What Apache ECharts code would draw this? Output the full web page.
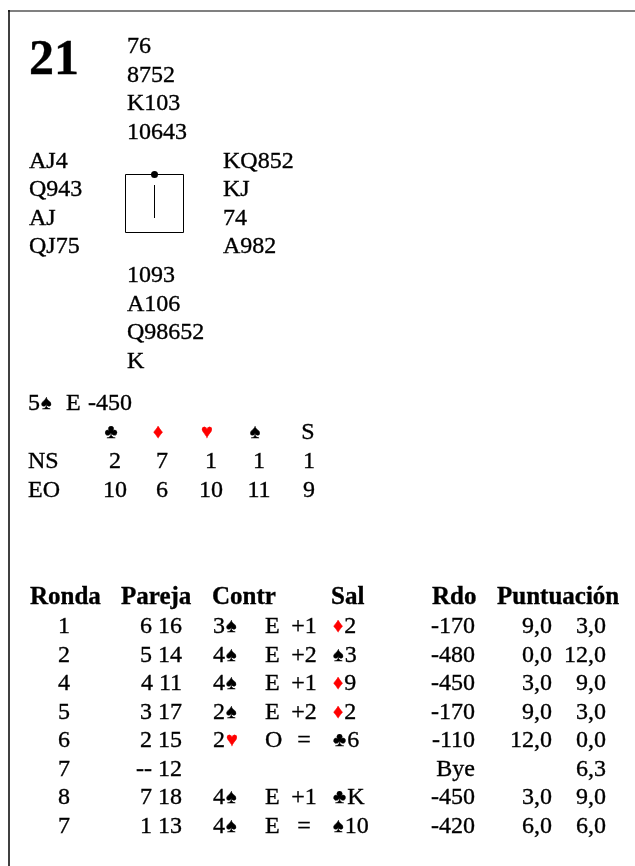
<!DOCTYPE html>
<html>
<head>
<meta charset="utf-8">
<script src="https://cdn.jsdelivr.net/npm/echarts@6/dist/echarts.min.js"></script>
<style>
html,body{margin:0;padding:0;background:#fff;}
#c{width:635px;height:866px;}
</style>
</head>
<body>
<div id="c"></div>
<script>
// ---- data ----
const boardNumber = '21';
const north = ['76', '8752', 'K103', '10643'];
const west = ['AJ4', 'Q943', 'AJ', 'QJ75'];
const east = ['KQ852', 'KJ', '74', 'A982'];
const south = ['1093', 'A106', 'Q98652', 'K'];
const parContract = ['5S', 'E', '-450'];
const trickHeaders = ['C', 'D', 'H', 'S', 'N'];
const nsTricks = [2, 7, 1, 1, 1];
const eoTricks = [10, 6, 10, 11, 9];
const tableHeaders = ['Ronda', 'Pareja', 'Contr', 'Sal', 'Rdo', 'Puntuación'];
const rounds = ['1', '2', '4', '5', '6', '7', '8', '7'];
const pairs = ['6 16', '5 14', '4 11', '3 17', '2 15', '-- 12', '7 18', '1 13'];
const contracts = ['3S', '4S', '4S', '2S', '2H', '', '4S', '4S'];
const declarers = ['E', 'E', 'E', 'E', 'O', '', 'E', 'E'];
const results = ['+1', '+2', '+1', '+2', '=', '', '+1', '='];
const leads = ['D2', 'S3', 'D9', 'D2', 'C6', '', 'CK', 'S10'];
const scores = ['-170', '-480', '-450', '-170', '-110', 'Bye', '-450', '-420'];
const nsPoints = ['9,0', '0,0', '3,0', '9,0', '12,0', '', '3,0', '6,0'];
const eoPoints = ['3,0', '12,0', '9,0', '3,0', '0,0', '6,3', '9,0', '6,0'];

// ---- helpers ----
const FAMILY = 'Liberation Serif, Times New Roman, serif';
const FS = 24;
const SUIT_FS = 20;
const INK = 0.35;
const SUIT = { S: '{k|♠}', H: '{r|♥}', D: '{r|♦}', C: '{k|♣}', N: '{n|S}' };
const rich = {
  n: { fill: '#000', fontSize: FS, fontFamily: FAMILY, fontWeight: 'normal', stroke: '#000', lineWidth: INK },
  k: { fill: '#000', fontSize: SUIT_FS, fontFamily: FAMILY, stroke: '#000', lineWidth: INK, padding: [0, 1, 0, 1] },
  r: { fill: '#ff0000', fontSize: SUIT_FS, fontFamily: FAMILY, stroke: '#ff0000', lineWidth: INK, padding: [0, 1, 0, 1] }
};
function plain(s) { return s ? '{n|' + s + '}' : ''; }
function levelSuit(s) { return s ? plain(s.slice(0, -1)) + SUIT[s.slice(-1)] : ''; }
function suitRank(s) { return s ? SUIT[s[0]] + plain(s.slice(1)) : ''; }

const els = [];
function txt(str, x, baseline, align, opts) {
  opts = opts || {};
  const fs = opts.fontSize || FS;
  str = String(str);
  const style = {
    x: x,
    y: baseline - 0.3375 * fs,
    text: str,
    fill: '#000',
    font: (opts.bold ? 'bold ' : 'normal ') + fs + 'px ' + FAMILY,
    align: align || 'left',
    verticalAlign: 'middle',
    stroke: '#000',
    lineWidth: INK
  };
  if (str.indexOf('{') >= 0) style.rich = rich;
  els.push({ type: 'text', silent: true, style: style });
}

// frame
els.push({ type: 'line', silent: true, shape: { x1: 8, y1: 11, x2: 635, y2: 11 }, style: { stroke: '#808080', lineWidth: 2 } });
els.push({ type: 'line', silent: true, shape: { x1: 9, y1: 10, x2: 9, y2: 866 }, style: { stroke: '#000', lineWidth: 1.5 } });

// board number
txt(boardNumber, 29, 78, 'left', { bold: true, fontSize: 50 });

// hands
const handStep = 28.6;
north.forEach((h, i) => txt(h, 127, 55 + handStep * i, 'left'));
west.forEach((h, i) => txt(h, 29, 55 + handStep * (4 + i), 'left'));
east.forEach((h, i) => txt(h, 223, 55 + handStep * (4 + i), 'left'));
south.forEach((h, i) => txt(h, 127, 55 + handStep * (8 + i), 'left'));

// compass box
els.push({ type: 'rect', silent: true, shape: { x: 125.5, y: 174.5, width: 58, height: 58 }, style: { fill: 'none', stroke: '#000', lineWidth: 1 } });
els.push({ type: 'line', silent: true, shape: { x1: 154.5, y1: 185, x2: 154.5, y2: 218 }, style: { stroke: '#000', lineWidth: 1 } });
els.push({ type: 'circle', silent: true, shape: { cx: 154.5, cy: 174.5, r: 3.5 }, style: { fill: '#000' } });

// par contract
txt(levelSuit(parContract[0]), 28, 412, 'left');
txt(parContract[1], 66, 412, 'left');
txt(parContract[2], 88, 412, 'left');

// tricks table
const trickCols = [115, 162, 211, 259, 309];
trickHeaders.forEach((s, i) => txt(SUIT[s], trickCols[i] - (s === 'N' ? 1 : 4), 441, 'center'));
txt('NS', 28, 470, 'left');
txt('EO', 28, 499, 'left');
nsTricks.forEach((v, i) => txt(v, trickCols[i], 470, 'center'));
eoTricks.forEach((v, i) => txt(v, trickCols[i], 499, 'center'));

// results table
const headX = [30, 121, 212, 331, 432, 497];
tableHeaders.forEach((h, i) => txt(h, headX[i], 606, 'left', { bold: true, fontSize: 25 }));
const rowStep = 28.5;
rounds.forEach((r, i) => {
  const b = 635 + rowStep * i;
  txt(r, 64, b, 'center');
  txt(pairs[i], 182, b, 'right');
  txt(levelSuit(contracts[i]), 213, b, 'left');
  txt(declarers[i], 265, b, 'left');
  txt(results[i], 304, b, 'center');
  txt(suitRank(leads[i]), 332, b, 'left');
  txt(scores[i], 475, b, 'right');
  txt(nsPoints[i], 552, b, 'right');
  txt(eoPoints[i], 606, b, 'right');
});

const chart = echarts.init(document.getElementById('c'), null, { renderer: 'canvas' });
chart.setOption({
  backgroundColor: '#ffffff',
  animation: false,
  graphic: { elements: els }
});
</script>
</body>
</html>
